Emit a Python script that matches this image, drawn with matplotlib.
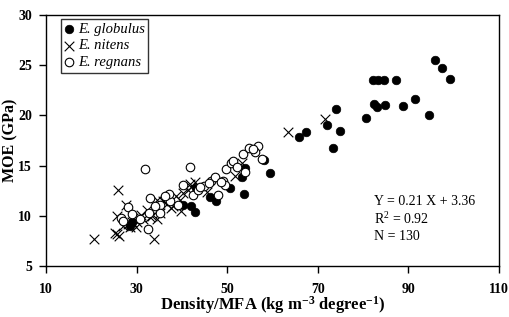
import numpy as np
import matplotlib.pyplot as plt

# E. globulus (filled circles)
glob_x = [96.0, 97.5, 99.3, 82.2, 83.4, 84.6, 87.3, 82.4, 83.1, 84.8, 88.8, 91.4,
          94.5, 80.6, 74.1, 72.1, 74.9, 67.3, 65.8, 73.4, 59.4, 53.7, 53.2, 53.9,
          50.6, 47.6, 46.2, 42.9, 42.1, 40.3, 58.1, 43.2, 28.9, 28.6]
glob_y = [25.5, 24.7, 23.6, 23.5, 23.5, 23.5, 23.5, 21.1, 20.8, 21.0, 20.9, 21.6,
          20.0, 19.7, 20.6, 19.0, 18.4, 18.3, 17.8, 16.7, 14.3, 12.2, 13.9, 14.8,
          12.8, 11.5, 11.9, 10.4, 11.0, 11.1, 15.6, 12.8, 9.4, 9.0]

# E. nitens (crosses)
nit_x = [20.6, 25.9, 25.2, 26.2, 25.7, 33.8, 27.6, 25.6, 28.1, 28.9, 28.5, 34.4,
         34.4, 33.3, 35.1, 35.9, 38.1, 39.9, 40.3, 41.8, 41.4, 39.5, 42.1, 51.7,
         53.2, 31.5, 30.0, 63.4, 71.7, 29.3, 31.0, 32.2, 36.8, 37.5, 38.8, 43.0,
         45.5, 27.0, 29.8, 33.0]
nit_y = [7.7, 12.6, 8.3, 8.0, 8.2, 7.7, 11.1, 10.0, 9.2, 9.4, 8.9, 11.6,
         9.7, 10.0, 10.3, 11.5, 11.0, 10.5, 12.3, 13.2, 12.6, 11.6, 12.9, 14.0,
         15.3, 9.7, 9.4, 18.3, 19.6, 9.8, 10.1, 10.6, 11.2, 10.8, 12.0, 13.4,
         12.4, 9.0, 8.9, 9.9]

# E. regnans (open circles)
reg_x = [31.8, 41.8, 28.1, 26.5, 32.9, 32.8, 32.6, 30.7, 35.1, 35.1, 37.3, 39.2,
         40.3, 42.5, 43.6, 44.8, 46.5, 47.3, 49.0, 48.0, 49.8, 50.9, 53.9, 53.5,
         54.8, 56.8, 56.1, 57.6, 49.5, 37.2, 51.3, 48.7, 27.0, 29.0, 34.0, 36.3,
         44.0, 46.0, 52.2, 55.7]
reg_y = [14.7, 14.9, 10.9, 9.8, 11.8, 10.3, 8.7, 9.7, 11.1, 10.3, 11.5, 11.1,
         13.1, 12.1, 12.6, 13.0, 13.5, 13.9, 13.5, 12.1, 14.7, 15.3, 14.4, 16.1,
         16.7, 16.9, 16.3, 15.7, 13.1, 12.2, 15.5, 13.4, 9.5, 10.2, 11.0, 12.0,
         12.9, 13.3, 14.9, 16.6]

xticks = [10, 30, 50, 70, 90, 110]
yticks = [5, 10, 15, 20, 25, 30]

plt.rcParams['font.family'] = ['Liberation Serif', 'DejaVu Serif']
plt.rcParams['mathtext.fontset'] = 'custom'
plt.rcParams['mathtext.rm'] = 'Liberation Serif'
plt.rcParams['mathtext.bf'] = 'Liberation Serif:bold'
plt.rcParams['mathtext.it'] = 'Liberation Serif:italic'

fig = plt.figure(figsize=(5.1, 3.17), dpi=100)
ax = fig.add_axes([0.0902, 0.161, 0.888, 0.792])

ax.scatter(glob_x, glob_y, s=38, c='black', edgecolors='black', linewidths=0.5,
           label='E. globulus', zorder=3)
ax.scatter(nit_x, nit_y, s=48, c='black', marker='x', linewidths=0.8,
           label='E. nitens', zorder=4)
ax.scatter(reg_x, reg_y, s=38, facecolors='white', edgecolors='black', linewidths=0.8,
           label='E. regnans', zorder=5)

ax.set_xlim(10, 110)
ax.set_ylim(5, 30)
ax.set_xticks(xticks)
ax.set_yticks(yticks)
ax.tick_params(direction='out', length=5, width=1, labelsize=10, pad=5)
ax.tick_params(axis='x', pad=7)
for lbl in ax.get_xticklabels() + ax.get_yticklabels():
    lbl.set_fontweight('bold')
for s in ax.spines.values():
    s.set_linewidth(1.0)

ax.set_xlabel(r'Density/MFA (kg m$^{\mathbf{-3}}$ degree$^{\mathbf{-1}}$)',
              fontsize=12, fontweight='bold', labelpad=-1)
ax.set_ylabel('MOE (GPa)', fontsize=11.5, fontweight='bold', labelpad=0)

leg = ax.legend(loc='upper left', bbox_to_anchor=(0.033, 0.985), borderaxespad=0,
                frameon=True, fancybox=False, edgecolor='black', handlelength=0.6,
                handletextpad=0.3, borderpad=0.25, labelspacing=0.25,
                prop={'family': 'Liberation Serif', 'style': 'italic', 'size': 10.5})
leg.get_frame().set_linewidth(1.0)

ax.text(0.724, 0.09, 'Y = 0.21 X + 3.36\nR$^2$ = 0.92\nN = 130',
        transform=ax.transAxes, fontsize=10, linespacing=1.3, va='bottom')

plt.savefig('out.png', dpi=100)
